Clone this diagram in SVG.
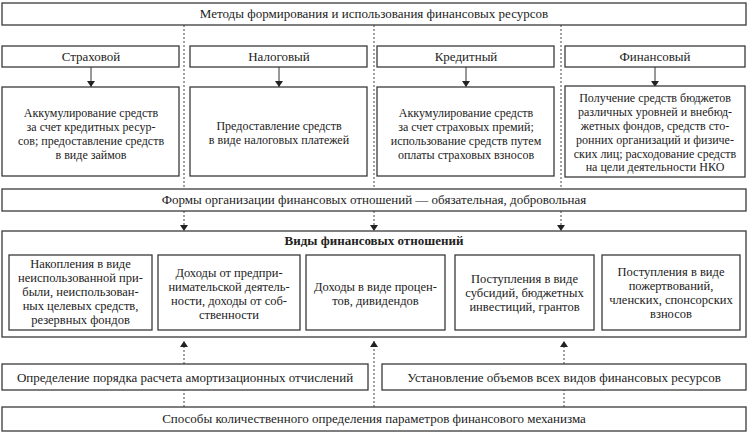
<svg xmlns="http://www.w3.org/2000/svg" width="749" height="433" viewBox="0 0 749 433">
<defs>
<style>
.b{fill:#fff;stroke:#3a3a3a;stroke-width:1.3}
.t{font-family:"Liberation Serif","Times New Roman",serif;font-size:13px;fill:#222;text-anchor:middle}
.s{font-family:"Liberation Serif","Times New Roman",serif;font-size:12px;fill:#222;text-anchor:middle}
.i{font-family:"Liberation Serif","Times New Roman",serif;font-size:12.5px;fill:#222;text-anchor:middle}
.bold{font-weight:bold}
.d{fill:none;stroke:#444;stroke-width:1;stroke-dasharray:2,2}
.a{fill:none;stroke:#333;stroke-width:1}
</style>
<marker id="ah" viewBox="0 0 6 8" refX="6" refY="4" markerWidth="6" markerHeight="8" markerUnits="userSpaceOnUse" orient="auto">
<path d="M0,0 L6,4 L0,8 z" fill="#222"/>
</marker>
</defs>
<rect width="749" height="433" fill="#fff"/>

<g id="connectors">
<line class="d" x1="184" y1="25" x2="184" y2="189"/>
<line class="d" x1="374" y1="25" x2="374" y2="189"/>
<line class="d" x1="561" y1="25" x2="561" y2="189"/>
<line class="a" x1="91" y1="67" x2="91" y2="87" marker-end="url(#ah)"/>
<line class="a" x1="279" y1="67" x2="279" y2="87" marker-end="url(#ah)"/>
<line class="a" x1="466" y1="67" x2="466" y2="87" marker-end="url(#ah)"/>
<line class="a" x1="655" y1="67" x2="655" y2="87" marker-end="url(#ah)"/>
<line class="d" x1="184" y1="211" x2="184" y2="231" marker-end="url(#ah)"/>
<line class="d" x1="374" y1="211" x2="374" y2="231" marker-end="url(#ah)"/>
<line class="d" x1="561" y1="211" x2="561" y2="231" marker-end="url(#ah)"/>
<line class="d" x1="184" y1="364" x2="184" y2="341" marker-end="url(#ah)"/>
<line class="d" x1="374" y1="407" x2="374" y2="341" marker-end="url(#ah)"/>
<line class="d" x1="564" y1="364" x2="564" y2="341" marker-end="url(#ah)"/>
<line class="d" x1="184" y1="407" x2="184" y2="390"/>
<line class="d" x1="564" y1="407" x2="564" y2="390"/>
</g>

<g id="methods">
<rect class="b" x="2" y="3" width="744" height="22"/>
<text class="t" x="374" y="18">Методы формирования и использования финансовых ресурсов</text>
</g>

<g id="h1"><rect class="b" x="2" y="46" width="177" height="21"/><text class="t" x="91" y="61">Страховой</text></g>
<g id="h2"><rect class="b" x="190" y="46" width="177" height="21"/><text class="t" x="279" y="61">Налоговый</text></g>
<g id="h3"><rect class="b" x="377" y="46" width="177" height="21"/><text class="t" x="466" y="61">Кредитный</text></g>
<g id="h4"><rect class="b" x="565" y="46" width="180" height="21"/><text class="t" x="655" y="61">Финансовый</text></g>

<g id="d1"><rect class="b" x="2" y="87" width="177" height="89"/>
<text class="s" x="91" y="117">Аккумулирование средств</text>
<text class="s" x="91" y="131">за счет кредитных ресур-</text>
<text class="s" x="91" y="145">сов; предоставление средств</text>
<text class="s" x="91" y="159">в виде займов</text></g>
<g id="d2"><rect class="b" x="190" y="87" width="177" height="89"/>
<text class="s" x="279" y="130">Предоставление средств</text>
<text class="s" x="279" y="144">в виде налоговых платежей</text></g>
<g id="d3"><rect class="b" x="377" y="87" width="177" height="89"/>
<text class="s" x="466" y="117">Аккумулирование средств</text>
<text class="s" x="466" y="131">за счет страховых премий;</text>
<text class="s" x="466" y="145">использование средств путем</text>
<text class="s" x="466" y="159">оплаты страховых взносов</text></g>
<g id="d4"><rect class="b" x="565" y="86" width="180" height="91"/>
<text class="s" x="655" y="102">Получение средств бюджетов</text>
<text class="s" x="655" y="116">различных уровней и внебюд-</text>
<text class="s" x="655" y="130">жетных фондов, средств сто-</text>
<text class="s" x="655" y="144">ронних организаций и физиче-</text>
<text class="s" x="655" y="158">ских лиц; расходование средств</text>
<text class="s" x="655" y="171">на цели деятельности НКО</text></g>

<g id="forms"><rect class="b" x="2" y="189" width="744" height="22"/>
<text class="t" x="374" y="204">Формы организации финансовых отношений — обязательная, добровольная</text></g>

<g id="types"><rect class="b" x="2" y="231" width="744" height="106"/>
<text class="t bold" x="374" y="245">Виды финансовых отношений</text></g>

<g id="v1"><rect class="b" x="9" y="255" width="143" height="75"/>
<text class="i" x="80.5" y="268">Накопления в виде</text>
<text class="i" x="80.5" y="282">неиспользованной при-</text>
<text class="i" x="80.5" y="296">были, неиспользован-</text>
<text class="i" x="80.5" y="310">ных целевых средств,</text>
<text class="i" x="80.5" y="324">резервных фондов</text></g>
<g id="v2"><rect class="b" x="158" y="255" width="142" height="75"/>
<text class="i" x="229" y="277">Доходы от предпри-</text>
<text class="i" x="229" y="291">нимательской деятель-</text>
<text class="i" x="229" y="305">ности, доходы от соб-</text>
<text class="i" x="229" y="319">ственности</text></g>
<g id="v3"><rect class="b" x="306" y="255" width="139" height="75"/>
<text class="i" x="375.5" y="291">Доходы в виде процен-</text>
<text class="i" x="375.5" y="305">тов, дивидендов</text></g>
<g id="v4"><rect class="b" x="455" y="255" width="139" height="75"/>
<text class="i" x="524.5" y="283">Поступления в виде</text>
<text class="i" x="524.5" y="297">субсидий, бюджетных</text>
<text class="i" x="524.5" y="311">инвестиций, грантов</text></g>
<g id="v5"><rect class="b" x="602" y="255" width="138" height="75"/>
<text class="i" x="671" y="276">Поступления в виде</text>
<text class="i" x="671" y="290">пожертвований,</text>
<text class="i" x="671" y="304">членских, спонсорских</text>
<text class="i" x="671" y="318">взносов</text></g>

<g id="amort"><rect class="b" x="2" y="364" width="366" height="26"/>
<text class="t" x="185" y="382">Определение порядка расчета амортизационных отчислений</text></g>
<g id="volumes"><rect class="b" x="382" y="364" width="364" height="26"/>
<text class="t" x="564" y="382">Установление объемов всех видов финансовых ресурсов</text></g>

<g id="ways"><rect class="b" x="2" y="407" width="744" height="24"/>
<text class="t" x="374" y="423">Способы количественного определения параметров финансового механизма</text></g>
</svg>
